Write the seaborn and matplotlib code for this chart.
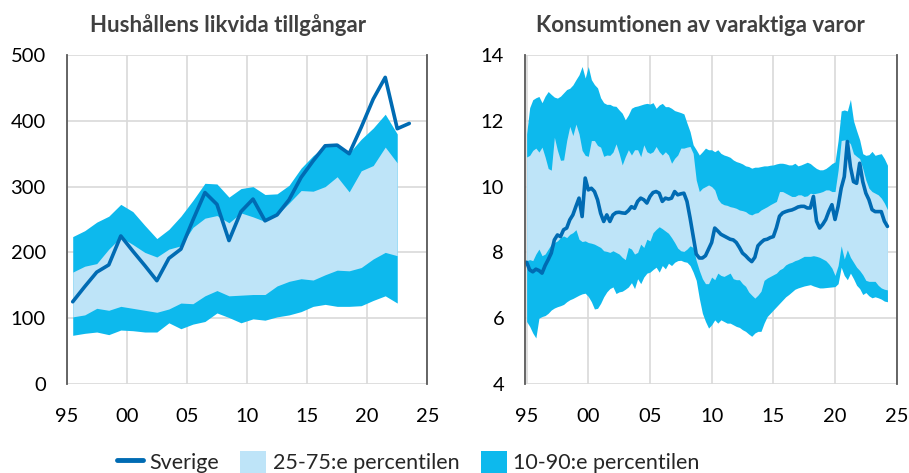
import numpy as np
import matplotlib.pyplot as plt
import seaborn as sns
from matplotlib.lines import Line2D
from matplotlib.patches import Patch

sns.set_style("white")
plt.rcParams['font.family'] = ['Lato', 'DejaVu Sans']

# colours
C_LINE = "#006BB3"
C_DARK = "#0DB9ED"
C_LIGHT = "#BEE4F8"
C_GRID = "#D9D9D9"
C_SPINE = "#595959"

# --- left panel: household liquid assets, yearly (mid-year points) ---
left_years = list(range(1995, 2024))          # line runs to 2023, bands to 2022
left_sverige = [125, 148, 170, 181, 225, 202, 180, 157, 191, 205, 249, 291, 273, 218,
                262, 281, 248, 257, 280, 314, 339, 362, 363, 350, 390, 433, 466, 388, 396]
left_p90 = [224, 233, 246, 255, 273, 262, 241, 221, 235, 255, 279, 305, 304, 284,
            297, 300, 288, 289, 302, 328, 347, 362, 364, 351, 372, 389, 410, 380]
left_p75 = [170, 179, 183, 205, 223, 212, 200, 193, 205, 210, 238, 252, 256, 245,
            260, 254, 247, 257, 275, 294, 293, 300, 315, 292, 324, 332, 360, 336]
left_p25 = [102, 105, 115, 112, 118, 115, 112, 109, 114, 123, 122, 134, 142, 134,
            135, 136, 136, 149, 156, 160, 158, 166, 173, 172, 177, 190, 200, 195]
left_p10 = [74, 77, 79, 75, 82, 81, 79, 79, 93, 84, 91, 95, 108, 101,
            93, 99, 97, 102, 105, 110, 118, 121, 118, 118, 119, 127, 134, 123]

# --- right panel: durable goods consumption, quarterly 1995Q1 - 2024Q2 ---
right_start, right_step = 1995.0, 0.25
right_sverige = [
    7.70, 7.47, 7.41, 7.49,  7.45, 7.37, 7.60, 7.78,  7.98, 8.38, 8.53, 8.48,
    8.69, 8.74, 8.99, 9.14,  9.40, 9.65, 9.09, 10.26, 9.90, 9.95, 9.85, 9.60,
    9.19, 8.94, 9.14, 8.94,  9.14, 9.21, 9.22, 9.20,  9.19, 9.27, 9.39, 9.34,
    9.55, 9.65, 9.60, 9.50,  9.70, 9.82, 9.85, 9.80,  9.55, 9.65, 9.62, 9.65,
    9.85, 9.75, 9.78, 9.80,  9.55, 9.05, 8.50, 7.95,  7.83, 7.83, 7.90, 8.10,
    8.30, 8.74, 8.65, 8.55,  8.50, 8.45, 8.40, 8.38,  8.30, 8.15, 7.98, 7.90,
    7.80, 7.72, 7.85, 8.20,  8.30, 8.38, 8.40, 8.45,  8.48, 8.75, 9.10, 9.20,
    9.24, 9.27, 9.29, 9.33,  9.38, 9.40, 9.40, 9.35,  9.35, 9.70, 8.95, 8.74,
    8.85, 9.00, 9.25, 9.45,  9.00, 9.40, 9.95, 10.30, 11.37, 10.60, 10.15, 10.10,
    10.71, 10.15, 9.80, 9.60, 9.30, 9.24, 9.24, 9.24, 8.95, 8.79]
right_p90 = [
    11.60, 12.40, 12.64, 12.70, 12.74, 12.55, 12.75, 12.89, 12.80, 12.72, 12.69, 12.75,
    12.85, 12.95, 12.99, 13.09, 13.25, 13.40, 13.65, 13.30, 13.65, 13.25, 13.10, 13.00,
    12.70, 12.55, 12.50, 12.50, 12.45, 12.44, 12.33, 12.23, 12.03, 12.18, 12.38, 12.43,
    12.45, 12.48, 12.51, 12.53, 12.51, 12.55, 12.38, 12.48, 12.53, 12.43, 12.43, 12.38,
    12.31, 12.28, 12.25, 12.21, 11.93, 11.67, 11.27, 11.12, 10.96, 11.06, 11.17, 11.12,
    11.12, 11.06, 11.12, 11.01, 10.96, 10.93, 10.89, 10.81, 10.76, 10.73, 10.69, 10.63,
    10.61, 10.56, 10.59, 10.59, 10.61, 10.63, 10.63, 10.65, 10.66, 10.69, 10.71, 10.71,
    10.69, 10.66, 10.66, 10.71, 10.63, 10.66, 10.70, 10.74, 10.70, 10.62, 10.55, 10.51,
    10.51, 10.55, 10.62, 10.70, 10.75, 11.40, 12.30, 12.33, 12.30, 12.65, 12.00, 11.70,
    11.42, 11.00, 10.95, 10.97, 11.07, 10.95, 10.98, 11.00, 10.85, 10.65]
right_p75 = [
    10.90, 10.95, 11.10, 11.17, 11.05, 11.20, 10.90, 10.55, 10.50, 11.50, 11.10, 10.80,
    10.81, 11.40, 11.83, 11.55, 11.90, 11.60, 11.10, 10.95, 10.92, 11.40, 11.40, 11.25,
    11.20, 10.92, 10.96, 10.95, 11.05, 11.30, 11.01, 10.66, 10.91, 11.12, 10.96, 11.12,
    11.12, 10.91, 11.27, 11.06, 11.01, 11.06, 11.22, 11.06, 10.96, 11.06, 10.96, 10.71,
    10.86, 10.96, 11.17, 11.17, 11.20, 11.22, 11.01, 10.20, 9.85, 9.95, 10.00, 10.05,
    10.00, 9.90, 9.62, 9.50, 9.45, 9.43, 9.39, 9.37, 9.34, 9.29, 9.27, 9.24,
    9.17, 9.14, 9.19, 9.21, 9.29, 9.34, 9.39, 9.45, 9.50, 9.55, 9.85, 9.85,
    9.80, 9.75, 9.70, 9.70, 9.75, 9.75, 9.70, 9.72, 9.80, 9.78, 9.80, 9.82,
    9.85, 9.90, 9.90, 9.85, 9.85, 10.50, 11.40, 11.42, 11.40, 11.30, 11.00, 10.92,
    10.85, 10.55, 10.20, 9.95, 9.85, 9.80, 9.75, 9.65, 9.50, 9.30]
right_p25 = [
    7.75, 7.78, 7.75, 7.95, 8.10, 7.90, 7.95, 8.10, 8.25, 8.30, 8.35, 8.45,
    8.50, 8.45, 8.55, 8.60, 8.69, 8.40, 8.33, 8.35, 8.30, 8.28, 8.25, 8.20,
    8.15, 8.05, 8.03, 8.00, 8.05, 8.00, 7.95, 7.85, 7.78, 8.15, 8.10, 7.95,
    8.00, 8.25, 8.15, 8.40, 8.35, 8.60, 8.70, 8.78, 8.72, 8.65, 8.58, 8.45,
    8.30, 8.13, 8.05, 8.03, 8.10, 8.20, 8.15, 7.75, 7.45, 7.20, 7.05, 7.05,
    7.25, 7.17, 7.37, 7.30, 7.27, 7.32, 7.37, 7.20, 7.17, 7.17, 7.05, 6.97,
    6.80, 6.70, 6.61, 6.70, 6.82, 7.15, 7.22, 7.27, 7.32, 7.37, 7.47, 7.52,
    7.62, 7.67, 7.70, 7.75, 7.78, 7.83, 7.88, 7.88, 7.88, 7.90, 7.88, 7.85,
    7.80, 7.75, 7.65, 7.52, 7.30, 7.60, 8.20, 7.80, 8.08, 7.85, 7.70, 7.55,
    7.45, 7.32, 7.15, 7.12, 7.12, 7.12, 7.00, 6.92, 6.88, 6.86]
right_p10 = [
    5.90, 5.75, 5.55, 5.40, 6.00, 6.05, 6.08, 6.15, 6.25, 6.31, 6.35, 6.38,
    6.42, 6.50, 6.56, 6.60, 6.65, 6.70, 6.74, 6.76, 6.66, 6.50, 6.28, 6.30,
    6.45, 6.65, 6.80, 6.90, 6.95, 6.75, 6.80, 6.82, 6.88, 6.95, 7.08, 6.90,
    7.20, 7.05, 7.25, 7.37, 7.40, 7.48, 7.55, 7.40, 7.60, 7.50, 7.67, 7.60,
    7.70, 7.75, 7.76, 7.72, 7.70, 7.60, 7.40, 7.15, 6.60, 6.15, 5.90, 5.70,
    5.80, 5.95, 5.85, 5.95, 5.90, 5.85, 5.85, 5.80, 5.75, 5.72, 5.65, 5.60,
    5.52, 5.45, 5.55, 5.60, 5.60, 5.85, 6.05, 6.15, 6.25, 6.35, 6.45, 6.55,
    6.65, 6.72, 6.80, 6.88, 6.92, 6.95, 6.98, 7.00, 7.02, 6.98, 6.95, 6.92,
    6.92, 6.93, 6.94, 6.95, 6.96, 7.05, 7.55, 7.30, 7.17, 7.37, 7.20, 7.00,
    6.90, 6.72, 6.78, 6.68, 6.62, 6.65, 6.62, 6.58, 6.52, 6.50]

x_ticks = [1995, 2000, 2005, 2010, 2015, 2020, 2025]
x_ticklabels = ["95", "00", "05", "10", "15", "20", "25"]

titles = ["Hushållens likvida tillgångar", "Konsumtionen av varaktiga varor"]

fig = plt.figure(figsize=(9.09, 4.73), dpi=100)
ax1 = fig.add_axes([66.7 / 909, 89 / 473, 360.6 / 909, 329 / 473])
ax2 = fig.add_axes([525 / 909, 89 / 473, 371.7 / 909, 329 / 473])

# left panel
lx = np.array(left_years) + 0.5
ax1.fill_between(lx[:-1], left_p10, left_p90, color=C_DARK, linewidth=0)
ax1.fill_between(lx[:-1], left_p25, left_p75, color=C_LIGHT, linewidth=0)
sns.lineplot(x=lx, y=left_sverige, ax=ax1, color=C_LINE, linewidth=2.6)
ax1.set_xlim(1995, 2025)
ax1.set_ylim(0, 500)
ax1.set_yticks(range(0, 501, 100))

# right panel
rx = right_start + right_step * np.arange(len(right_sverige))
ax2.fill_between(rx, right_p10, right_p90, color=C_DARK, linewidth=0)
ax2.fill_between(rx, right_p25, right_p75, color=C_LIGHT, linewidth=0)
sns.lineplot(x=rx, y=right_sverige, ax=ax2, color=C_LINE, linewidth=2.6)
ax2.set_xlim(1994.87, 2025)
ax2.set_ylim(4, 14)
ax2.set_yticks(range(4, 15, 2))

title_x = [228, 700]
for ax, title, tx in zip([ax1, ax2], titles, title_x):
    ax.set_axisbelow(True)
    ax.grid(True, color=C_GRID, linewidth=1.2)
    ax.set_xticks(x_ticks)
    ax.set_xticklabels(x_ticklabels)
    for side in ["top", "bottom"]:
        ax.spines[side].set_visible(False)
    for side in ["left", "right"]:
        ax.spines[side].set_visible(True)
        ax.spines[side].set_color(C_SPINE)
        ax.spines[side].set_linewidth(1.3)
    ax.tick_params(axis="y", direction="in", length=7, width=1.3, color=C_SPINE,
                   pad=15, labelsize=14.5, labelcolor="#000000")
    ax.tick_params(axis="x", length=0, pad=17, labelsize=14.5, labelcolor="#000000")
    ax.set_xlabel("")
    ax.set_ylabel("")
    fig.text(tx / 909, (473 - 32) / 473, title, ha="center", va="baseline",
             fontsize=16, fontweight="bold", color="#404040")

handles = [Line2D([0], [0], color=C_LINE, linewidth=3.5),
           Patch(facecolor=C_LIGHT, edgecolor="none"),
           Patch(facecolor=C_DARK, edgecolor="none")]
labels = ["Sverige", "25-75:e percentilen", "10-90:e percentilen"]
fig.legend(handles, labels, loc="center", bbox_to_anchor=(0.449, 11 / 473), ncol=3,
           frameon=False, fontsize=15.5, handlelength=1.2, handleheight=1.2,
           handletextpad=0.3, columnspacing=1.0)

fig.savefig("out.png", dpi=100)
